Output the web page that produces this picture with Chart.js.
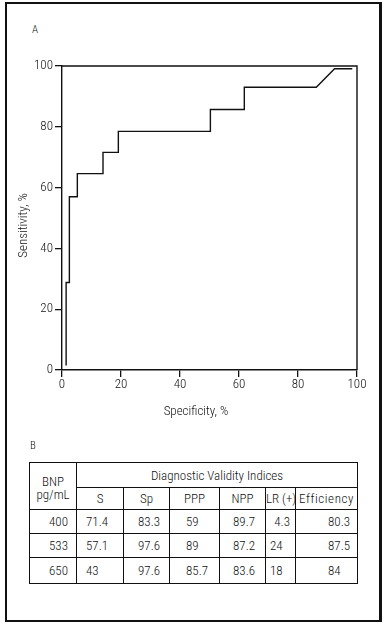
<!DOCTYPE html>
<html>
  <head>
    <meta charset="UTF-8" />
    <title>ROC curve for BNP</title>
    <script src="https://cdn.jsdelivr.net/npm/chart.js"></script>
    <style>
      body {
        margin: 0;
        background: #fff;
        font-family: Roboto, sans-serif;
        font-stretch: condensed;
        font-weight: 300;
        color: #111;
      }
      .frame {
        position: absolute;
        left: 5px;
        top: 2px;
        width: 372px;
        height: 616px;
        border: 2px solid #111;
        border-right-width: 3px;
      }
      .label {
        position: absolute;
        font-size: 13px;
        line-height: 15px;
        white-space: nowrap;
      }
      #rocWrap {
        position: absolute;
        left: 0;
        top: 0;
        width: 386px;
        height: 440px;
      }
      table {
        position: absolute;
        left: 29px;
        top: 462px;
        border-collapse: collapse;
        table-layout: fixed;
        width: 328px;
        font-size: 13px;
      }
      td {
        border: 1px solid #111;
        padding: 0;
        white-space: nowrap;
        overflow: visible;
      }
    </style>
  </head>
  <body>
    <div class="frame"></div>
    <div class="label" style="left:32px; top:22px; font-size:11px;">A</div>
    <div id="rocWrap"><canvas id="rocChart" width="386" height="440"></canvas></div>
    <div class="label" style="left:146px; top:403px; width:100px; text-align:center;">Specificity, %</div>
    <div class="label" style="left:-28px; top:218px; width:100px; text-align:center; transform:rotate(-90deg);">Sensitivity, %</div>
    <div class="label" style="left:30px; top:438px; font-size:11px;">B</div>
    <table id="indices"></table>

    <script>
      // ROC curve points (specificity %, sensitivity %)
      const rocSpecificity = [1.4, 1.4, 2.5, 2.5, 5.2, 5.2, 13.9, 13.9, 19.1, 19.1, 50.3, 50.3, 61.8, 61.8, 86.2, 92.4, 98.4];
      const rocSensitivity = [1.5, 28.8, 28.8, 57.0, 57.0, 64.6, 64.6, 71.6, 71.6, 78.5, 78.5, 85.7, 85.7, 93.0, 93.0, 99.1, 99.1];
      const axisTicks = [0, 20, 40, 60, 80, 100];

      // Panel B table
      const cutoffs = ["400", "533", "650"];
      const indexNames = ["S", "Sp", "PPP", "NPP", "LR (+)", "Efficiency"];
      const sensValues = ["71.4", "57.1", "43"];
      const specValues = ["83.3", "97.6", "97.6"];
      const pppValues = ["59", "89", "85.7"];
      const nppValues = ["89.7", "87.2", "83.6"];
      const lrValues = ["4.3", "24", "18"];
      const effValues = ["80.3", "87.5", "84"];

      const FONT = "Roboto, sans-serif";

      // Build the table
      const colWidths = [47, 47, 46, 50, 46, 30, 62];
      const table = document.getElementById("indices");
      const colgroup = document.createElement("colgroup");
      colWidths.forEach(w => {
        const c = document.createElement("col");
        c.style.width = w + "px";
        colgroup.appendChild(c);
      });
      table.appendChild(colgroup);

      const head1 = table.insertRow();
      head1.style.height = "25px";
      const bnpCell = head1.insertCell();
      bnpCell.rowSpan = 2;
      bnpCell.innerHTML = "BNP<br>pg/mL";
      bnpCell.style.textAlign = "center";
      bnpCell.style.lineHeight = "13px";
      bnpCell.style.paddingTop = "4px";
      const dvi = head1.insertCell();
      dvi.colSpan = 6;
      dvi.textContent = "Diagnostic Validity Indices";
      dvi.style.textAlign = "center";

      const head2 = table.insertRow();
      head2.style.height = "22px";
      indexNames.forEach(n => {
        const c = head2.insertCell();
        c.textContent = n;
        c.style.textAlign = "center";
        if (n === "Efficiency") c.style.letterSpacing = "0.6px";
      });

      // per-column alignment: [align, padding]
      const colAlign = [
        ["right", 8], ["left", 9], ["left", 14], ["left", 16], ["left", 13], ["left", 4], ["left", 32]
      ];
      const rowHeights = [24, 24, 26];
      cutoffs.forEach((cut, i) => {
        const row = table.insertRow();
        row.style.height = rowHeights[i] + "px";
        const vals = [cut, sensValues[i], specValues[i], pppValues[i], nppValues[i], lrValues[i], effValues[i]];
        vals.forEach((v, j) => {
          const c = row.insertCell();
          c.textContent = v;
          let [align, pad] = colAlign[j];
          if (j === 5 && v.indexOf(".") >= 0) {
            align = "right";
            pad = 5;
          }
          c.style.textAlign = align;
          if (align === "right") c.style.paddingRight = pad + "px";
          else c.style.paddingLeft = pad + "px";
        });
      });

      // Draw the top and right edges of the plot box
      const plotBox = {
        id: "plotBox",
        afterDraw(chart) {
          const { ctx, chartArea } = chart;
          ctx.save();
          ctx.strokeStyle = "#111";
          ctx.lineWidth = 1.4;
          ctx.beginPath();
          ctx.moveTo(chartArea.left, chartArea.top);
          ctx.lineTo(chartArea.right, chartArea.top);
          ctx.lineTo(chartArea.right, chartArea.bottom);
          ctx.stroke();
          ctx.restore();
        }
      };

      const points = rocSpecificity.map((x, i) => ({ x: x, y: rocSensitivity[i] }));

      const tickFont = { family: FONT, size: 13, weight: "300 condensed" };

      const ctx = document.getElementById("rocChart").getContext("2d");
      new Chart(ctx, {
        type: "scatter",
        data: {
          datasets: [{
            data: points,
            showLine: true,
            borderColor: "#111",
            borderWidth: 1.4,
            pointRadius: 0,
            fill: false,
            tension: 0
          }]
        },
        options: {
          responsive: false,
          animation: false,
          layout: { padding: { left: 16, right: 29, top: 66, bottom: 21 } },
          plugins: {
            legend: { display: false },
            tooltip: { enabled: false }
          },
          scales: {
            x: {
              type: "linear",
              min: 0,
              max: 100,
              afterBuildTicks: axis => { axis.ticks = axisTicks.map(v => ({ value: v })); },
              afterFit: axis => { axis.height = 49; },
              grid: { display: true, drawOnChartArea: false, drawTicks: true, tickLength: 7, color: "#111", lineWidth: 1.3 },
              border: { display: true, color: "#111", width: 1.4 },
              ticks: { color: "#111", padding: 0, maxRotation: 0, font: tickFont }
            },
            y: {
              type: "linear",
              min: 0,
              max: 100,
              afterBuildTicks: axis => { axis.ticks = axisTicks.map(v => ({ value: v })); },
              afterFit: axis => { axis.width = 46; },
              grid: { display: true, drawOnChartArea: false, drawTicks: true, tickLength: 7, color: "#111", lineWidth: 1.3 },
              border: { display: true, color: "#111", width: 1.4 },
              ticks: { color: "#111", padding: 2, font: tickFont }
            }
          }
        },
        plugins: [plotBox]
      });
    </script>
  </body>
</html>
